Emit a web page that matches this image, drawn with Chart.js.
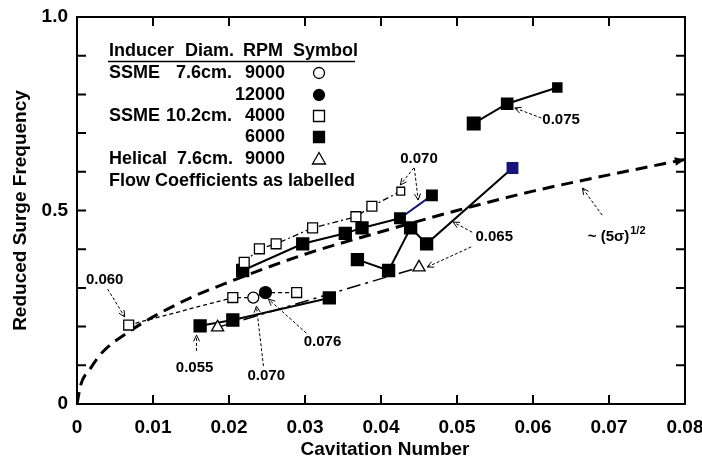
<!DOCTYPE html>
<html>
<head>
<meta charset="utf-8">
<script src="https://cdn.jsdelivr.net/npm/chart.js@4.4.0/dist/chart.umd.min.js"></script>
<style>
html, body { margin: 0; padding: 0; background: #fff; }
#chart { display: block; }
</style>
</head>
<body>
<canvas id="chart" width="702" height="462"></canvas>
<script>
// values
const xTicks = [0, 0.01, 0.02, 0.03, 0.04, 0.05, 0.06, 0.07, 0.08];
const yTickLabels = ['0', '0.5', '1.0'];

// ~ (5 sigma)^1/2 curve, read point by point
const curveX = [0, 0.0005, 0.0017, 0.0034, 0.0067, 0.01, 0.015, 0.02, 0.03, 0.04, 0.05, 0.06, 0.07, 0.08];
const curveY = [0, 0.05, 0.09, 0.135, 0.185, 0.225, 0.275, 0.315, 0.387, 0.445, 0.5, 0.55, 0.592, 0.632];

// lower dashed chain: open squares, open circle, filled circle
const lowChainX = [0.0068, 0.0205, 0.0232, 0.0248, 0.0289];
const lowChainY = [0.204, 0.275, 0.275, 0.288, 0.288];
const lowChainKind = ['openSq', 'openSq', 'openCirc', 'fillCirc', 'openSq'];

// filled squares, 6000 rpm
const low6000X = [0.0162, 0.0205, 0.0332];
const low6000Y = [0.202, 0.217, 0.274];

const mid6000X = [0.0218, 0.0297, 0.0353, 0.0375, 0.0425, 0.0467];
const mid6000Y = [0.345, 0.414, 0.441, 0.455, 0.480, 0.539];

const zig6000X = [0.0369, 0.041, 0.0439, 0.046, 0.0573];
const zig6000Y = [0.373, 0.345, 0.455, 0.414, 0.610];

const top6000X = [0.0522, 0.0566, 0.0632];
const top6000Y = [0.725, 0.776, 0.818];

// open squares, 4000 rpm
const up4000X = [0.022, 0.024, 0.0262, 0.031, 0.0367, 0.0388, 0.0426];
const up4000Y = [0.366, 0.401, 0.414, 0.455, 0.484, 0.511, 0.550];

// helical triangles
const helicalX = [0.0185, 0.045];
const helicalY = [0.198, 0.353];

// legend rows
const legendHeader = ['Inducer', 'Diam.', 'RPM', 'Symbol'];
const legendRows = [
    ['SSME', '7.6cm.', '9000', 'openCirc'],
    ['', '', '12000', 'fillCirc'],
    ['SSME', '10.2cm.', '4000', 'openSq'],
    ['', '', '6000', 'fillSq'],
    ['Helical', '7.6cm.', '9000', 'openTri']
];

// labels with dashed arrows (data units)
const notes = [
    { text: '0.060', x: 0.00364, y: 0.320, arrows: [[0.00403, 0.297, 0.00628, 0.225]] },
    { text: '0.055', x: 0.01547, y: 0.093, arrows: [[0.01573, 0.137, 0.01573, 0.178]] },
    { text: '0.070', x: 0.0249, y: 0.072, arrows: [[0.02453, 0.098, 0.02361, 0.253]] },
    { text: '0.076', x: 0.0323, y: 0.160, arrows: [[0.03018, 0.183, 0.02519, 0.271]] },
    { text: '0.070', x: 0.0450, y: 0.633, arrows: [[0.04431, 0.610, 0.04254, 0.566], [0.04438, 0.610, 0.0449, 0.527]] },
    { text: '0.065', x: 0.0549, y: 0.432, arrows: [[0.0520, 0.444, 0.04949, 0.470], [0.05187, 0.406, 0.04608, 0.354]] },
    { text: '0.075', x: 0.0637, y: 0.734, arrows: [[0.0611, 0.739, 0.0576, 0.765]] }
];

const FONT = '"Liberation Sans", Arial, sans-serif';
const NAVY = '#14147a';

function toPts(xs, ys) {
    return xs.map((x, i) => ({ x: x, y: ys[i] }));
}

function styleOf(kind) {
    if (kind === 'openSq') return { s: 'rect', bg: '#fff', r: 7 };
    if (kind === 'fillSq') return { s: 'rect', bg: '#000', r: 8 };
    if (kind === 'openCirc') return { s: 'circle', bg: '#fff', r: 5.5 };
    if (kind === 'fillCirc') return { s: 'circle', bg: '#000', r: 6 };
    return { s: 'triangle', bg: '#fff', r: 7 };
}

const datasets = [
    {
        data: toPts(lowChainX, lowChainY),
        borderColor: '#000', borderWidth: 1.3, borderDash: [4, 3],
        pointStyle: lowChainKind.map(k => styleOf(k).s),
        pointBackgroundColor: lowChainKind.map(k => styleOf(k).bg),
        pointRadius: lowChainKind.map(k => styleOf(k).r),
        pointBorderColor: '#000', pointBorderWidth: 1.3
    },
    {
        data: toPts(helicalX, helicalY),
        borderColor: '#000', borderWidth: 1.5, borderDash: [14, 5, 3, 5],
        pointStyle: 'triangle', pointRadius: 7,
        pointBackgroundColor: '#fff', pointBorderColor: '#000', pointBorderWidth: 1.3
    },
    {
        data: toPts(low6000X, low6000Y),
        borderColor: '#000', borderWidth: 2,
        pointStyle: 'rect', pointRadius: 8, pointBackgroundColor: '#000', pointBorderColor: '#000'
    },
    {
        data: toPts(up4000X, up4000Y),
        borderColor: '#000', borderWidth: 1.3, borderDash: [6, 3, 2, 3],
        pointStyle: 'rect', pointRadius: [7, 7, 7, 7, 7, 7, 5.5],
        pointBackgroundColor: '#fff', pointBorderColor: '#000', pointBorderWidth: 1.3
    },
    {
        data: toPts(mid6000X, mid6000Y),
        borderColor: '#000', borderWidth: 2,
        segment: { borderColor: ctx => ctx.p1DataIndex === mid6000X.length - 1 ? NAVY : undefined },
        pointStyle: 'rect', pointRadius: [8, 8, 8, 8, 7, 7],
        pointBackgroundColor: '#000', pointBorderColor: '#000'
    },
    {
        data: toPts(zig6000X, zig6000Y),
        borderColor: '#000', borderWidth: 2,
        pointStyle: 'rect', pointRadius: [8, 8, 8, 8, 7],
        pointBackgroundColor: ['#000', '#000', '#000', '#000', NAVY],
        pointBorderColor: ['#000', '#000', '#000', '#000', NAVY]
    },
    {
        data: toPts(top6000X, top6000Y),
        borderColor: '#000', borderWidth: 2,
        pointStyle: 'rect', pointRadius: [8.5, 7.5, 6],
        pointBackgroundColor: '#000', pointBorderColor: '#000'
    },
    {
        data: toPts(curveX, curveY),
        borderColor: '#000', borderWidth: 3, borderDash: [12, 7],
        cubicInterpolationMode: 'monotone', pointRadius: 0
    }
];

function drawSymbol(ctx, kind, x, y) {
    ctx.save();
    ctx.lineWidth = 1.3;
    ctx.strokeStyle = '#000';
    ctx.setLineDash([]);
    ctx.beginPath();
    if (kind === 'openCirc' || kind === 'fillCirc') {
        ctx.arc(x, y, 5.5, 0, Math.PI * 2);
    } else if (kind === 'openSq' || kind === 'fillSq') {
        ctx.rect(x - 5.5, y - 5.5, 11, 11);
    } else {
        ctx.moveTo(x, y - 6.5);
        ctx.lineTo(x + 6.5, y + 5);
        ctx.lineTo(x - 6.5, y + 5);
        ctx.closePath();
    }
    ctx.fillStyle = kind.indexOf('fill') === 0 ? '#000' : '#fff';
    ctx.fill();
    ctx.stroke();
    ctx.restore();
}

function dashedArrow(ctx, x1, y1, x2, y2) {
    ctx.save();
    ctx.strokeStyle = '#000';
    ctx.lineWidth = 1;
    ctx.setLineDash([3, 2]);
    ctx.beginPath();
    ctx.moveTo(x1, y1);
    ctx.lineTo(x2, y2);
    ctx.stroke();
    ctx.setLineDash([]);
    const a = Math.atan2(y2 - y1, x2 - x1);
    ctx.beginPath();
    ctx.moveTo(x2 - 7 * Math.cos(a - 0.45), y2 - 7 * Math.sin(a - 0.45));
    ctx.lineTo(x2, y2);
    ctx.lineTo(x2 - 7 * Math.cos(a + 0.45), y2 - 7 * Math.sin(a + 0.45));
    ctx.stroke();
    ctx.restore();
}

const decorations = {
    id: 'decorations',
    afterDraw(chart) {
        const ctx = chart.ctx;
        const xs = chart.scales.x, ys = chart.scales.y;
        const a = chart.chartArea;

        // frame and inward ticks
        ctx.save();
        ctx.strokeStyle = '#000';
        ctx.lineWidth = 2;
        ctx.strokeRect(a.left, a.top, a.right - a.left, a.bottom - a.top);
        ctx.beginPath();
        for (let i = 1; i < xTicks.length - 1; i++) {
            const px = xs.getPixelForValue(xTicks[i]);
            ctx.moveTo(px, a.bottom); ctx.lineTo(px, a.bottom - 9);
            ctx.moveTo(px, a.top); ctx.lineTo(px, a.top + 9);
        }
        for (let k = 1; k < 10; k++) {
            const py = ys.getPixelForValue(k / 10);
            ctx.moveTo(a.left, py); ctx.lineTo(a.left + 9, py);
            ctx.moveTo(a.right, py); ctx.lineTo(a.right - 9, py);
        }
        ctx.stroke();

        // arrow head at the end of the curve
        const n = curveX.length;
        const ex = xs.getPixelForValue(curveX[n - 1]), ey = ys.getPixelForValue(curveY[n - 1]);
        const px0 = xs.getPixelForValue(curveX[n - 2]), py0 = ys.getPixelForValue(curveY[n - 2]);
        const ang = Math.atan2(ey - py0, ex - px0);
        ctx.fillStyle = '#000';
        ctx.beginPath();
        ctx.moveTo(ex, ey);
        ctx.lineTo(ex - 11 * Math.cos(ang - 0.4), ey - 11 * Math.sin(ang - 0.4));
        ctx.lineTo(ex - 11 * Math.cos(ang + 0.4), ey - 11 * Math.sin(ang + 0.4));
        ctx.closePath();
        ctx.fill();

        // axis titles
        ctx.font = 'bold 19px ' + FONT;
        ctx.textAlign = 'center';
        ctx.textBaseline = 'middle';
        ctx.fillText('Cavitation Number', 385, 450);
        ctx.save();
        ctx.translate(21, (a.top + a.bottom) / 2);
        ctx.rotate(-Math.PI / 2);
        ctx.fillText('Reduced Surge Frequency', 0, 0);
        ctx.restore();

        // legend table
        ctx.font = 'bold 18px ' + FONT;
        ctx.textAlign = 'left';
        const colX = [109, 185, 243, 293];
        legendHeader.forEach((t, i) => ctx.fillText(t, colX[i], 51));
        ctx.lineWidth = 1.5;
        ctx.beginPath();
        ctx.moveTo(108, 61.5); ctx.lineTo(355, 61.5);
        ctx.stroke();
        const rowY = [73, 95, 116, 137, 159];
        legendRows.forEach((r, i) => {
            ctx.textAlign = 'left';
            ctx.fillText(r[0], 109, rowY[i]);
            ctx.textAlign = 'right';
            ctx.fillText(r[1], r[0] === 'SSME' ? 232 : 233, rowY[i]);
            ctx.fillText(r[2], 285, rowY[i]);
            drawSymbol(ctx, r[3], 319, rowY[i]);
        });
        ctx.textAlign = 'left';
        ctx.fillText('Flow Coefficients as labelled', 109, 181);

        // flow coefficient labels
        ctx.font = 'bold 15px ' + FONT;
        ctx.textAlign = 'center';
        notes.forEach(nt => {
            ctx.fillText(nt.text, xs.getPixelForValue(nt.x), ys.getPixelForValue(nt.y));
            nt.arrows.forEach(ar => dashedArrow(ctx,
                xs.getPixelForValue(ar[0]), ys.getPixelForValue(ar[1]),
                xs.getPixelForValue(ar[2]), ys.getPixelForValue(ar[3])));
        });

        // ~ (5 sigma)^1/2 label
        const lx = xs.getPixelForValue(0.0672), ly = ys.getPixelForValue(0.432);
        ctx.textAlign = 'left';
        ctx.fillText('~ (5\u03c3)', lx, ly);
        const w = ctx.measureText('~ (5\u03c3)').width;
        ctx.font = 'bold 11px ' + FONT;
        ctx.fillText('1/2', lx + w + 1, ly - 6);
        dashedArrow(ctx, xs.getPixelForValue(0.0691), ys.getPixelForValue(0.488),
            xs.getPixelForValue(0.0665), ys.getPixelForValue(0.558));
        ctx.restore();
    }
};

new Chart(document.getElementById('chart').getContext('2d'), {
    type: 'scatter',
    data: { datasets: datasets.map(d => Object.assign({ showLine: true, fill: false, tension: 0 }, d)) },
    options: {
        responsive: false,
        animation: false,
        layout: { padding: { top: 17, right: 17, left: 0, bottom: 0 } },
        plugins: { legend: { display: false }, tooltip: { enabled: false } },
        scales: {
            x: {
                type: 'linear', min: 0, max: 0.08,
                grid: { display: false, drawTicks: false },
                border: { display: false },
                afterFit: s => { s.height = 58; s.paddingLeft = 0; s.paddingRight = 0; },
                afterBuildTicks: s => { s.ticks = xTicks.map(v => ({ value: v })); },
                ticks: {
                    color: '#000', padding: 12, maxRotation: 0, autoSkip: false,
                    font: { family: FONT, size: 19, weight: 'bold' },
                    callback: v => v === 0 ? '0' : v.toFixed(2)
                }
            },
            y: {
                type: 'linear', min: 0, max: 1,
                grid: { display: false, drawTicks: false },
                border: { display: false },
                afterFit: s => { s.width = 77; s.paddingTop = 0; s.paddingBottom = 0; },
                afterBuildTicks: s => { s.ticks = [0, 0.5, 1].map(v => ({ value: v })); },
                ticks: {
                    color: '#000', padding: 9,
                    font: { family: FONT, size: 19, weight: 'bold' },
                    callback: (v, i) => yTickLabels[i]
                }
            }
        }
    },
    plugins: [decorations]
});
</script>
</body>
</html>
